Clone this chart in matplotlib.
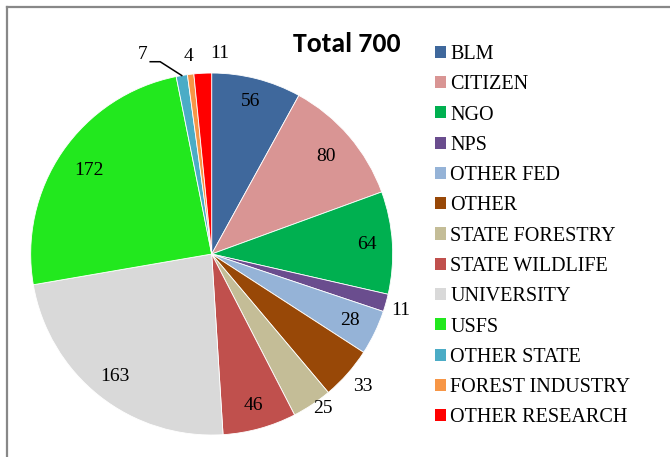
import matplotlib
matplotlib.use("Agg")
import matplotlib.pyplot as plt
from matplotlib import font_manager
from matplotlib.font_manager import FontProperties
from matplotlib.patches import Patch
from matplotlib.lines import Line2D
import numpy as np

categories = ["BLM", "CITIZEN", "NGO", "NPS", "OTHER FED", "OTHER",
              "STATE FORESTRY", "STATE WILDLIFE", "UNIVERSITY", "USFS",
              "OTHER STATE", "FOREST INDUSTRY", "OTHER RESEARCH"]
values = [56, 80, 64, 11, 28, 33, 25, 46, 163, 172, 7, 4, 11]
colors = ["#3F689C", "#D99594", "#00B050", "#6A4D8E", "#95B3D7", "#984807",
          "#C4BD97", "#C0504D", "#D9D9D9", "#22E81E", "#4BACC6", "#F79646",
          "#FF0000"]

# label radius (fraction of pie radius) and angular nudge in degrees
label_r = [0.87, 0.83, 0.86, 1.09, 0.85, 1.11, 1.05, 0.87, 0.86, 0.82, 1.16, 1.10, 1.11]
label_shift = [0, 0, 0, -1, 0, 0, 2, 0, 0, 0, 9.5, 0, -5]


def font(name, size, weight="normal"):
    want = 700 if weight == "bold" else 400
    for f in font_manager.fontManager.ttflist:
        if f.name == name and f.style == "normal" and f.weight == want:
            return FontProperties(fname=f.fname, size=size)
    return FontProperties(family=name, size=size, weight=weight)


label_font = font("Liberation Serif", 14)
legend_font = font("Liberation Serif", 14.5)
title_font = font("Carlito", 20, "bold")

fig = plt.figure(figsize=(6.7, 4.57), dpi=100)
ax = fig.add_axes([0.0458, 0.0481, 0.5403, 0.7921])

wedges, _ = ax.pie(values, colors=colors, startangle=90, counterclock=False,
                   wedgeprops=dict(edgecolor="white", linewidth=0.6))
ax.set_xlim(-1, 1)
ax.set_ylim(-1, 1)
ax.set_aspect("equal")

for i, w in enumerate(wedges):
    mid = (w.theta1 + w.theta2) / 2 + label_shift[i]
    a = np.deg2rad(mid)
    r = label_r[i]
    if categories[i] == "OTHER STATE":
        am = np.deg2rad((w.theta1 + w.theta2) / 2)
        edge = (np.cos(am), np.sin(am))
        elbow = (1.1 * np.cos(np.deg2rad(105)), 1.1 * np.sin(np.deg2rad(105)))
        end = (elbow[0] - 0.055, elbow[1])
        ax.plot([edge[0], elbow[0], end[0]], [edge[1], elbow[1], end[1]],
                color="black", lw=1.1, clip_on=False)
        ax.text(end[0] - 0.015, end[1] + 0.04, str(values[i]), ha="right",
                va="center", fontproperties=label_font)
        continue
    ax.text(r * np.cos(a), r * np.sin(a), str(values[i]), ha="center",
            va="center", fontproperties=label_font)

fig.text(347 / 670, 1 - 44 / 457, "Total 700", ha="center", va="center",
         fontproperties=title_font)

handles = [Patch(facecolor=c, edgecolor="none") for c in colors]
fig.legend(handles, categories, loc="upper left",
           bbox_to_anchor=(435 / 670, 1 - 45 / 457), frameon=False,
           handlelength=0.55, handleheight=0.55, handletextpad=0.2,
           borderaxespad=0, borderpad=0, labelspacing=0.56,
           prop=legend_font)

# frame lines at top and left
fig.add_artist(Line2D([7 / 670, 1], [1 - 7 / 457, 1 - 7 / 457],
                      transform=fig.transFigure, color="#888888", lw=1.6))
fig.add_artist(Line2D([7 / 670, 7 / 670], [0, 1 - 7 / 457],
                      transform=fig.transFigure, color="#888888", lw=1.6))

fig.savefig("out.png", dpi=100)
